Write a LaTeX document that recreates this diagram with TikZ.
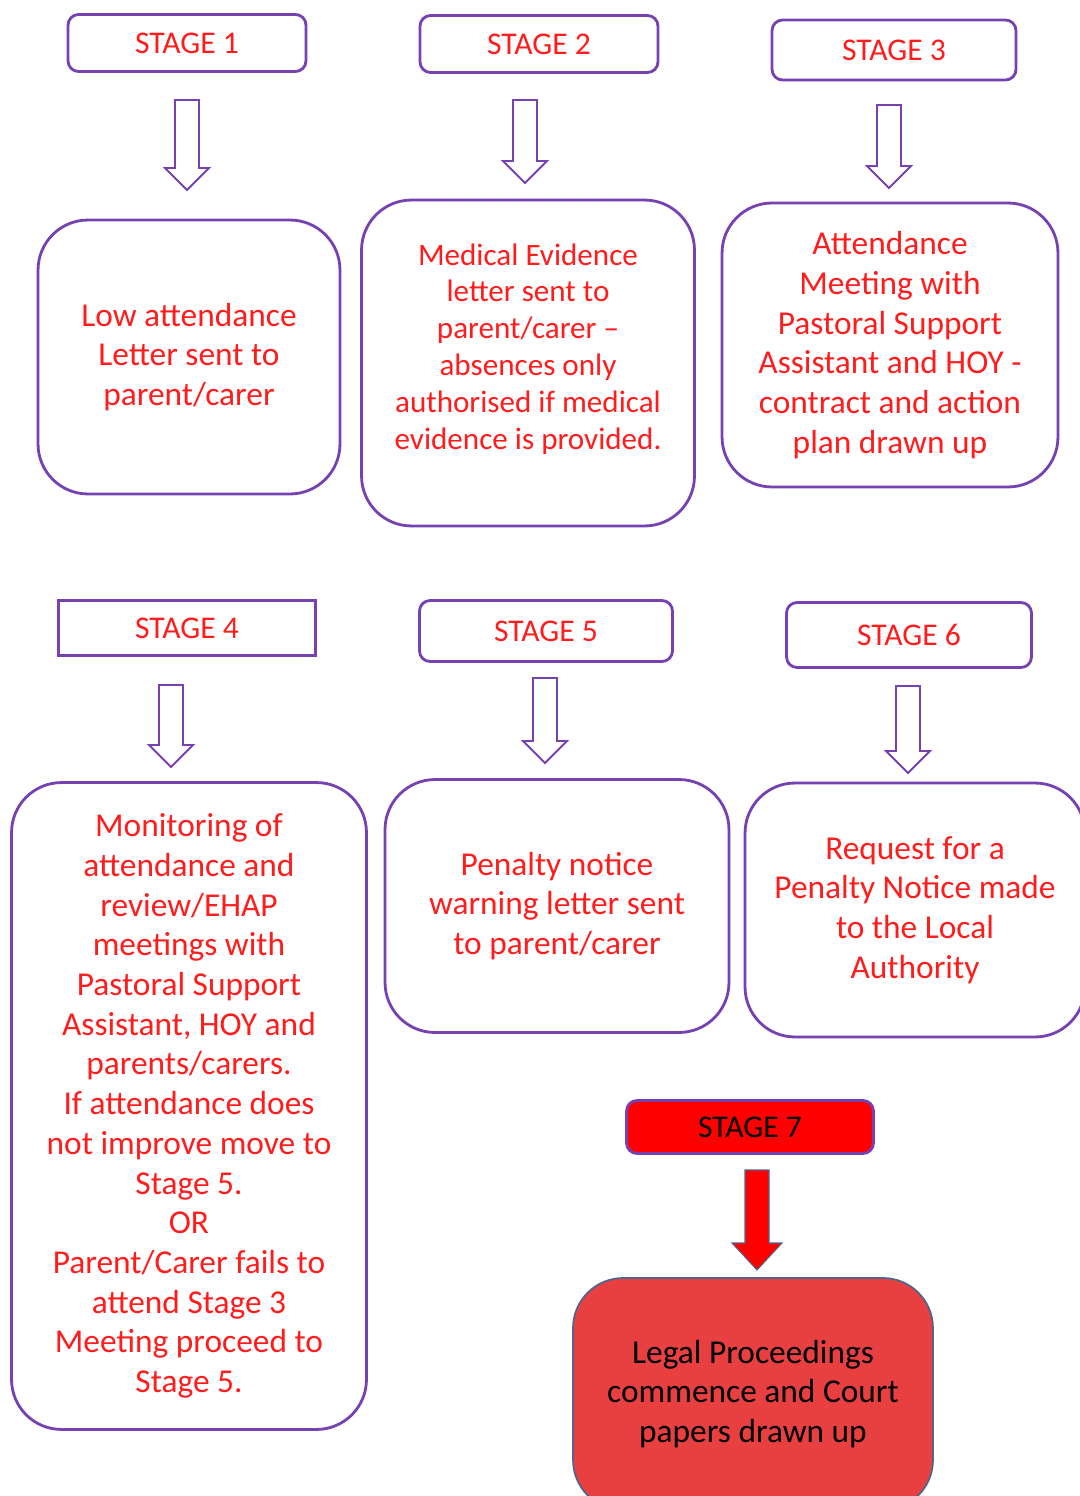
\documentclass[tikz,border=0pt]{standalone}
\usepackage{fontspec}
\setmainfont{Carlito}
\definecolor{stpurple}{RGB}{118,66,178}
\definecolor{sttext}{RGB}{255,28,28}
\definecolor{legalbg}{RGB}{232,64,64}
\definecolor{legalbd}{RGB}{80,100,140}
\tikzset{
  stagebox/.style={draw=stpurple,line width=1.6pt,rounded corners=6pt,
    text=sttext,font=\fontsize{18}{21}\selectfont,inner sep=0pt},
  infobox/.style={draw=stpurple,line width=1.6pt,rounded corners=1cm,
    text=sttext,align=center,font=\fontsize{19}{22.6}\selectfont,inner sep=0pt},
  blockarr/.style={draw=stpurple,line width=1.1pt,fill=white,line join=miter}
}
% hollow down arrow: x, top, bottom
\newcommand{\downarr}[4][]{%
  \draw[blockarr,#1] ({#2-12},#3) -- ({#2+12},#3) -- ({#2+12},{#4-22})
    -- ({#2+22},{#4-22}) -- (#2,#4) -- ({#2-22},{#4-22})
    -- ({#2-12},{#4-22}) -- cycle;}

\begin{document}
\begin{tikzpicture}[x=0.02cm,y=-0.02cm]
  \useasboundingbox (0,0) rectangle (1079,1496);
  % stage labels
  \node[stagebox,minimum width=4.76cm,minimum height=1.14cm] (st1) at (187,43) {STAGE 1};
  \node[stagebox,minimum width=4.76cm,minimum height=1.14cm] (st2) at (539,44) {STAGE 2};
  \node[stagebox,minimum width=4.88cm,minimum height=1.2cm] (st3) at (894,50) {STAGE 3};
  \node[stagebox,sharp corners,minimum width=5.14cm,minimum height=1.1cm] (st4) at (187,628) {STAGE 4};
  \node[stagebox,minimum width=5.06cm,minimum height=1.22cm] (st5) at (546,631) {STAGE 5};
  \node[stagebox,minimum width=4.9cm,minimum height=1.3cm] (st6) at (909,635) {STAGE 6};
  \node[stagebox,fill=red,text=black,minimum width=4.94cm,minimum height=1.06cm] (st7) at (750,1127) {STAGE 7};
  % block arrows
  \downarr{187}{100}{190}
  \downarr{525}{100}{183}
  \downarr{889}{105}{188}
  \downarr{171}{685}{767}
  \downarr{545}{678}{763}
  \downarr{908}{686}{773}
  \draw[blockarr,draw=legalbd,line width=0.6pt,fill=red] (745,1170) -- (769,1170)
    -- (769,1243) -- (782,1243) -- (757,1270) -- (732,1243) -- (745,1243) -- cycle;
  % stage boxes
  \node[infobox,minimum width=6.04cm,minimum height=5.48cm] (b1) at (189,357)
    {Low attendance\\Letter sent to\\parent/carer};
  \node[infobox,minimum width=6.66cm,minimum height=6.52cm] (b2) at (528,363) {};
  \node[text=sttext,align=center,font=\fontsize{17.7}{21}\selectfont,inner sep=0pt]
    (b2txt) at (b2.center) [yshift=0.28cm]
    {Medical Evidence\\letter sent to\\parent/carer --\\absences only\\authorised if medical\\evidence is provided.};
  \node[infobox,minimum width=6.72cm,minimum height=5.68cm] (b3) at (890,345)
    {Attendance\\Meeting with\\Pastoral Support\\Assistant and HOY -\\contract and action\\plan drawn up};
  \node[infobox,minimum width=7.1cm,minimum height=12.94cm] (b4) at (189,1106)
    {Monitoring of\\attendance and\\review/EHAP\\meetings with\\Pastoral Support\\Assistant, HOY and\\parents/carers.\\If attendance does\\not improve move to\\Stage 5.\\OR\\Parent/Carer fails to\\attend Stage 3\\Meeting proceed to\\Stage 5.};
  \node[infobox,minimum width=6.88cm,minimum height=5.06cm] (b5) at (557,906)
    {Penalty notice\\warning letter sent\\to parent/carer};
  \node[infobox,minimum width=6.8cm,minimum height=5.08cm] (b6) at (915,910)
    {Request for a\\Penalty Notice made\\to the Local\\Authority};
  \node[infobox,draw=legalbd,line width=1pt,fill=legalbg,text=black,
    minimum width=7.2cm,minimum height=4.64cm] (b7) at (753,1394)
    {Legal Proceedings\\commence and Court\\papers drawn up};
\end{tikzpicture}
\end{document}
